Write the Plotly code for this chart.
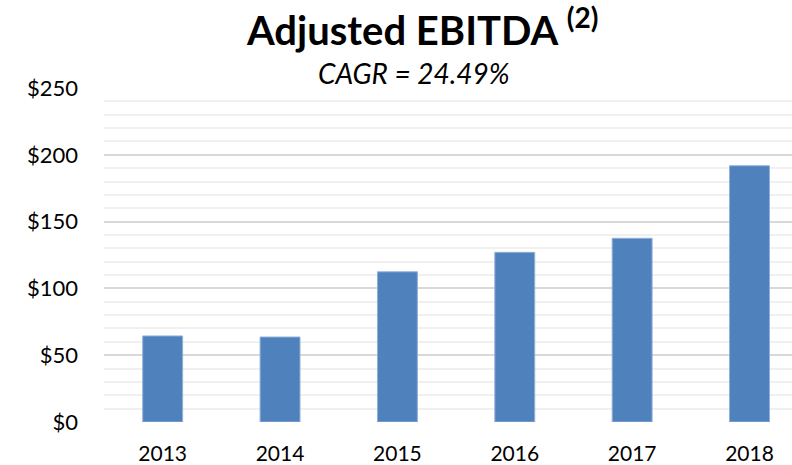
import plotly.graph_objects as go

years = ["2013", "2014", "2015", "2016", "2017", "2018"]
ebitda = [64.4, 63.6, 112.4, 127.0, 137.5, 191.8]
y_ticks = [0, 50, 100, 150, 200, 250]
y_tick_labels = ["$0", "$50", "$100", "$150", "$200", "$250"]
title_text = "Adjusted EBITDA <sup>(2)</sup>"
subtitle_text = "CAGR = 24.49%"

FONT = "Lato, 'Open Sans', sans-serif"
W, H = 792, 465
l, r, t, b = 104, 0, 88, 43
pw, ph = W - l - r, H - t - b


def px_to_paper(px, py):
    return (px - l) / pw, (H - b - py) / ph


fig = go.Figure()
fig.add_trace(go.Bar(
    x=list(range(len(years))), y=ebitda, width=0.34,
    marker=dict(color="#4F81BD", line=dict(color="#8FB0D8", width=1)),
    hoverinfo="skip",
))

tx, ty = px_to_paper(422, 27)
sx, sy = px_to_paper(414, 73)

fig.update_layout(
    width=W, height=H,
    margin=dict(l=l, r=r, t=t, b=b),
    paper_bgcolor="white", plot_bgcolor="white",
    showlegend=False,
    font=dict(family=FONT, color="#000000"),
    xaxis=dict(
        range=[-0.5, 5.362],
        tickmode="array", tickvals=list(range(len(years))), ticktext=years,
        showgrid=False, zeroline=False, showline=False,
        ticks="", ticklabelstandoff=17,
        tickfont=dict(size=21, family=FONT, color="#000"),
        fixedrange=True,
    ),
    yaxis=dict(
        range=[0, 250],
        tickmode="array", tickvals=y_ticks, ticktext=y_tick_labels,
        showgrid=True, gridcolor="#D9D9D9", gridwidth=1.5,
        minor=dict(dtick=10, showgrid=True, gridcolor="#F0F0F0", gridwidth=1.5),
        zeroline=False, showline=False, ticks="",
        ticklabelstandoff=25,
        tickfont=dict(size=22, family=FONT, color="#000"),
        fixedrange=True,
    ),
    annotations=[
        dict(text="<b>" + title_text + "</b>", x=tx, y=ty, xref="paper", yref="paper",
             xanchor="center", yanchor="middle", showarrow=False,
             font=dict(size=40, family=FONT, color="#000")),
        dict(text="<i>" + subtitle_text + "</i>", x=sx, y=sy, xref="paper", yref="paper",
             xanchor="center", yanchor="middle", showarrow=False,
             font=dict(size=28, family=FONT, color="#000")),
    ],
)

fig.write_html("out.html", config={"displayModeBar": False},
               post_script="document.body.style.margin='0';")
